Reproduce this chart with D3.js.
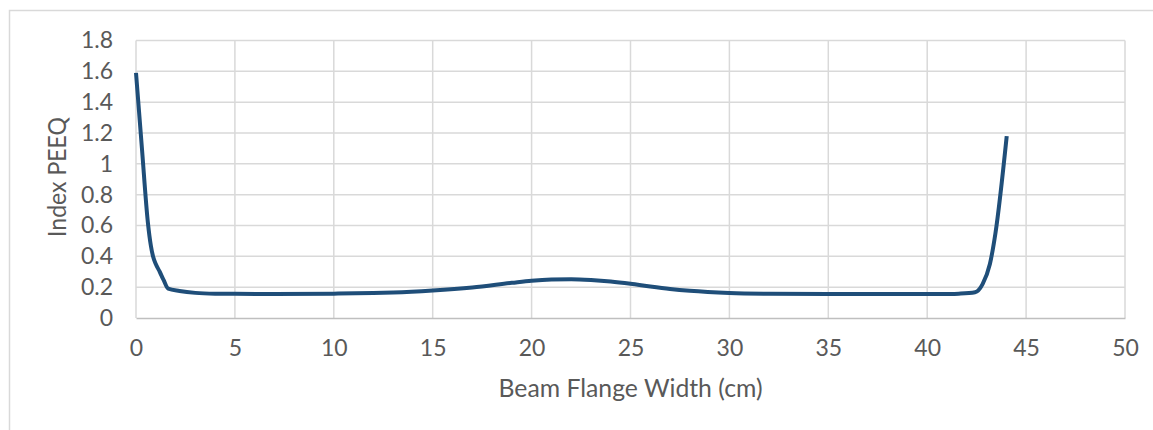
<!DOCTYPE html>
<html>
<head>
<meta charset="utf-8">
<script src="https://cdn.jsdelivr.net/npm/d3@7"></script>
<style>
  html, body { margin: 0; padding: 0; background: #ffffff; }
  svg { display: block; }
  text { font-family: Lato, "Open Sans", sans-serif; fill: #595959; }
</style>
</head>
<body>
<svg id="chart" width="1153" height="430"></svg>
<script>
// Beam flange width position (cm)
const widthCm = [0, 0.3, 0.6, 0.75, 0.86, 1.0, 1.2, 1.4, 1.63, 2.2, 3, 4, 5, 7, 10, 12, 13, 15, 17, 19, 20, 21, 22, 23, 24, 25, 26, 27, 28, 30, 32, 35, 38, 40, 41, 41.6, 42.42, 42.8, 43.17, 43.45, 44.02];
// Index PEEQ along the flange
const peeq = [1.59, 1.1, 0.62, 0.47, 0.4, 0.35, 0.3, 0.245, 0.19, 0.175, 0.163, 0.158, 0.157, 0.156, 0.158, 0.162, 0.165, 0.178, 0.198, 0.228, 0.242, 0.25, 0.252, 0.247, 0.237, 0.222, 0.204, 0.188, 0.176, 0.162, 0.157, 0.155, 0.155, 0.155, 0.156, 0.158, 0.167, 0.22, 0.35, 0.55, 1.18];

const xTicks = [0, 5, 10, 15, 20, 25, 30, 35, 40, 45, 50];
const yTicks = [0, 0.2, 0.4, 0.6, 0.8, 1, 1.2, 1.4, 1.6, 1.8];

const xTitle = "Beam Flange Width (cm)";
const yTitle = "Index PEEQ";

const svg = d3.select("#chart");

// outer chart frame
svg.append("rect")
  .attr("x", 9.5).attr("y", 10.5)
  .attr("width", 1160).attr("height", 440)
  .attr("fill", "none")
  .attr("stroke", "#d9d9d9")
  .attr("stroke-width", 1.5);

const x = d3.scaleLinear().domain([0, 50]).range([136, 1125]);
const y = d3.scaleLinear().domain([0, 1.8]).range([318, 40.5]);

// gridlines
const grid = svg.append("g");
grid.selectAll(".vg").data(xTicks).join("line")
  .attr("x1", d => x(d)).attr("x2", d => x(d))
  .attr("y1", y(0)).attr("y2", y(1.8))
  .attr("stroke", "#d9d9d9").attr("stroke-width", 1.5);
grid.selectAll(".hg").data(yTicks.filter(d => d > 0)).join("line")
  .attr("x1", x(0)).attr("x2", x(50))
  .attr("y1", d => y(d)).attr("y2", d => y(d))
  .attr("stroke", "#d9d9d9").attr("stroke-width", 1.5);

// x axis
const xAxis = svg.append("g")
  .attr("transform", `translate(0,${y(0)})`)
  .call(d3.axisBottom(x).tickValues(xTicks).tickSize(0).tickPadding(22).tickFormat(d3.format("d")));
xAxis.select(".domain").attr("stroke", "#bfbfbf").attr("stroke-width", 1.5);
xAxis.selectAll("text").attr("font-size", 23).attr("font-family", "Lato, sans-serif").attr("fill", "#595959");

// y axis labels
const yAxis = svg.append("g")
  .attr("transform", `translate(${x(0)},0)`)
  .call(d3.axisLeft(y).tickValues(yTicks).tickSize(0).tickPadding(23).tickFormat(d => d3.format("")(+d.toFixed(1))));
yAxis.select(".domain").remove();
yAxis.selectAll("text").attr("font-size", 23).attr("font-family", "Lato, sans-serif").attr("fill", "#595959");

// series line
const pts = widthCm.map((w, i) => [w, peeq[i]]);
svg.append("path")
  .datum(pts)
  .attr("fill", "none")
  .attr("stroke", "#1f4e79")
  .attr("stroke-width", 4)
  .attr("stroke-linejoin", "round")
  .attr("d", d3.line().x(d => x(d[0])).y(d => y(d[1])).curve(d3.curveMonotoneX));

// axis titles
svg.append("text")
  .attr("x", (x(0) + x(50)) / 2).attr("y", 397)
  .attr("text-anchor", "middle")
  .attr("font-size", 25)
  .attr("textLength", 264).attr("lengthAdjust", "spacingAndGlyphs")
  .text(xTitle);

svg.append("text")
  .attr("transform", `translate(66,177) rotate(-90)`)
  .attr("text-anchor", "middle")
  .attr("font-size", 25)
  .attr("textLength", 120).attr("lengthAdjust", "spacingAndGlyphs")
  .text(yTitle);
</script>
</body>
</html>
